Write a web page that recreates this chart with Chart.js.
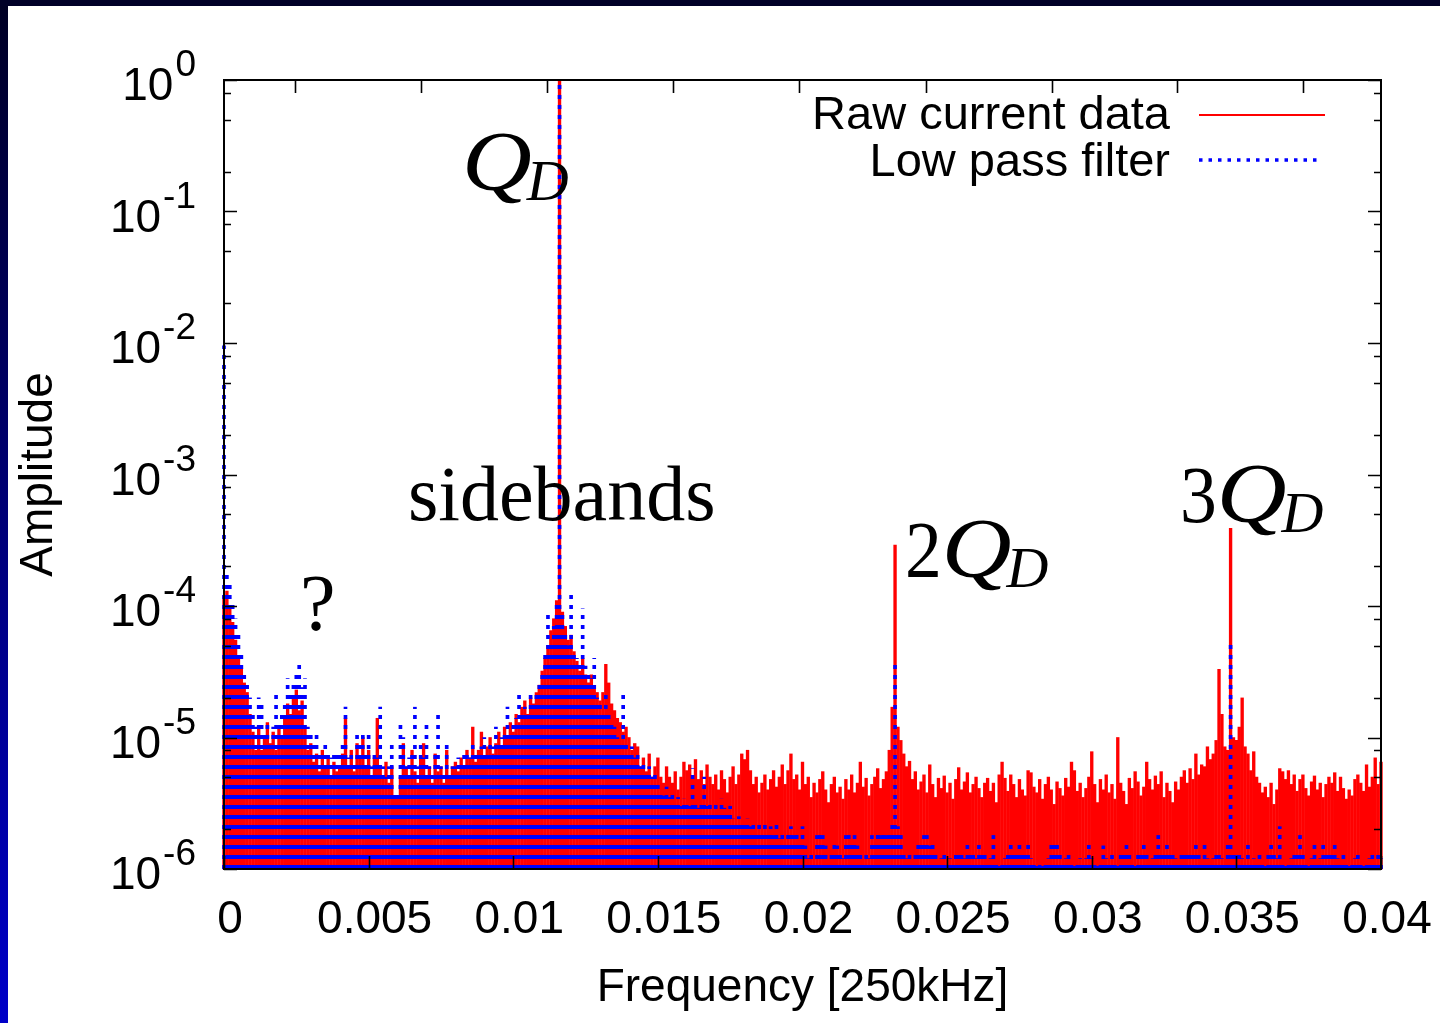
<!DOCTYPE html>
<html>
<head>
<meta charset="utf-8">
<script src="https://cdn.jsdelivr.net/npm/chart.js@4.4.1/dist/chart.umd.min.js"></script>
<style>
  html, body { margin: 0; padding: 0; background: #ffffff; }
  #wrap { position: relative; width: 1440px; height: 1023px; }
  canvas { display: block; }
</style>
</head>
<body>
<div id="wrap"><canvas id="chart" width="1440" height="1023"></canvas></div>
<script>
// ---------------- DATA ----------------
const F_STEP = 0.0001; // frequency bin width, in units of 250 kHz

const seriesNames = ['Raw current data', 'Low pass filter'];

// Raw current data amplitude per frequency bin (bins 0..400)
const rawCurrent = [
  1.2e-4,1.3e-4,1.0e-4,7.5e-5,5.5e-5,4.2e-5,3.4e-5,2.6e-5,2.2e-5,1.5e-5,1.1e-5,8e-6,1.2e-5,8e-6,1.0e-5,1.3e-5,9e-6,1.1e-5,8e-6,1.2e-5,
  1.0e-5,1.4e-5,1.8e-5,1.5e-5,2.0e-5,2.3e-5,1.6e-5,1.9e-5,1.2e-5,8e-6,9e-6,6.5e-6,7.5e-6,5.5e-6,8e-6,6e-6,7e-6,5e-6,6.5e-6,5.5e-6,
  6e-6,7.5e-6,1.4e-5,6e-6,8e-6,5.5e-6,9e-6,7e-6,1.0e-5,6e-6,8e-6,5e-6,7e-6,1.4e-5,6e-6,5e-6,6.5e-6,4.5e-6,6e-6,3.5e-6,
  3.5e-6,5e-6,9e-6,6e-6,5e-6,8e-6,5.5e-6,4.5e-6,7e-6,9e-6,5e-6,6e-6,4.5e-6,7.5e-6,5.5e-6,6e-6,4.5e-6,8e-6,5e-6,6e-6,
  6.5e-6,5.5e-6,7e-6,6e-6,8e-6,7e-6,1.2e-5,6.5e-6,8e-6,1.1e-5,7e-6,8.5e-6,1.0e-5,7.5e-6,9e-6,1.1e-5,8.5e-6,1.2e-5,1.0e-5,1.3e-5,
  1.1e-5,1.5e-5,1.3e-5,1.7e-5,1.9e-5,1.5e-5,2.0e-5,1.8e-5,2.2e-5,2.5e-5,3.2e-5,4e-5,5e-5,6.5e-5,8e-5,1.1e-4,0.98,9e-5,7e-5,5.5e-5,
  6e-5,4.5e-5,3.8e-5,3.2e-5,4e-5,3e-5,2.6e-5,3.0e-5,2.4e-5,2.2e-5,1.9e-5,2.2e-5,3.6e-5,2.6e-5,1.8e-5,1.6e-5,1.4e-5,1.3e-5,1.1e-5,1.2e-5,
  1.0e-5,8e-6,9e-6,8.5e-6,6e-6,7e-6,5.5e-6,7.5e-6,5e-6,6e-6,7e-6,5e-6,4.5e-6,6e-6,5e-6,4.5e-6,5.5e-6,4e-6,5e-6,6.5e-6,
  5.6e-6,6.2e-6,5e-6,6.8e-6,4.8e-6,5.6e-6,4.4e-6,6.2e-6,5e-6,4.4e-6,5.2e-6,4e-6,5.6e-6,4.8e-6,3.8e-6,5e-6,6e-6,4.4e-6,5.2e-6,7.5e-6,
  6.8e-6,8e-6,5.6e-6,4.4e-6,5e-6,3.8e-6,4.5e-6,5.2e-6,4e-6,4.8e-6,5.6e-6,4.2e-6,5e-6,6.2e-6,4.4e-6,5.6e-6,7.5e-6,4.8e-6,5.2e-6,4e-6,
  6.5e-6,4.4e-6,5e-6,3.5e-6,4.5e-6,3.8e-6,4.8e-6,5.5e-6,4e-6,3.2e-6,4.4e-6,5e-6,3.8e-6,4.2e-6,3.4e-6,4.8e-6,4e-6,5.2e-6,3.8e-6,4.5e-6,
  6.5e-6,4.2e-6,4.9e-6,3.6e-6,4.4e-6,5e-6,5.8e-6,4.1e-6,4.8e-6,5.5e-6,8e-6,1.7e-5,2.9e-4,1.2e-5,9.5e-6,7.5e-6,6e-6,6.6e-6,4.8e-6,5.5e-6,
  4e-6,4.6e-6,5.2e-6,3.8e-6,6.2e-6,4.4e-6,3.5e-6,4.9e-6,4.1e-6,5.1e-6,3.8e-6,4.5e-6,3.4e-6,4.8e-6,5.9e-6,4e-6,4.6e-6,5.4e-6,3.8e-6,4.4e-6,
  5e-6,4.1e-6,3.5e-6,4.5e-6,4.9e-6,3.9e-6,4.5e-6,3.2e-6,5.2e-6,6.5e-6,4.9e-6,3.9e-6,5.2e-6,4.4e-6,3.5e-6,4.8e-6,4e-6,3.6e-6,5.6e-6,5.4e-6,
  4.2e-6,3.8e-6,4.8e-6,3.4e-6,4.4e-6,5e-6,4e-6,3.1e-6,4.6e-6,4.1e-6,3.6e-6,4.9e-6,4.2e-6,6.5e-6,5.6e-6,3.9e-6,4.5e-6,3.5e-6,4.1e-6,5e-6,
  7.8e-6,4.4e-6,3.2e-6,4.8e-6,4e-6,5.2e-6,3.8e-6,4.4e-6,3.4e-6,1.0e-5,4.5e-6,3.9e-6,3.1e-6,4.9e-6,4.1e-6,5.5e-6,4.6e-6,3.6e-6,4.2e-6,6.5e-6,
  4.8e-6,4e-6,5.1e-6,4.4e-6,5.5e-6,3.5e-6,4.5e-6,3.9e-6,3.2e-6,4.6e-6,4e-6,5e-6,5.6e-6,4.5e-6,5.8e-6,4.8e-6,7.5e-6,5.2e-6,6.2e-6,6e-6,
  8.5e-6,6.8e-6,7.5e-6,9.5e-6,3.3e-5,1.5e-5,8.5e-6,8e-6,3.9e-4,1.0e-5,9.5e-6,1.2e-5,2.0e-5,8.5e-6,7.5e-6,5.6e-6,7.8e-6,5e-6,4.5e-6,3.8e-6,
  4.2e-6,3.5e-6,4.5e-6,3.1e-6,4e-6,5.8e-6,5.5e-6,4.8e-6,5.6e-6,4.4e-6,5.2e-6,3.9e-6,4.8e-6,5.2e-6,4.1e-6,3.6e-6,4.6e-6,5.1e-6,4e-6,4.5e-6,
  3.5e-6,4.4e-6,5e-6,4.5e-6,5.4e-6,3.9e-6,5e-6,4.1e-6,3.4e-6,4e-6,3.6e-6,4.8e-6,5.2e-6,4.5e-6,3.9e-6,6.2e-6,4.2e-6,5e-6,7e-6,4.4e-6,
  6.5e-6
];

// Low pass filtered amplitude per frequency bin (bins 0..400)
const lowPass = [
  9.5e-3,1.8e-4,1.5e-4,1.1e-4,8e-5,6e-5,4.5e-5,3.2e-5,2.5e-5,2e-5,1.5e-5,1.2e-5,2e-5,1.8e-5,1.1e-5,1.3e-5,9e-6,1.2e-5,2.3e-5,1.3e-5,
  1.5e-5,1.9e-5,2.8e-5,2.2e-5,2.6e-5,3.2e-5,3.7e-5,2.4e-5,2.8e-5,1.2e-5,1.1e-5,9e-6,1.1e-5,8e-6,7.5e-6,9e-6,8e-6,7e-6,7.5e-6,8e-6,
  8e-6,9e-6,1.7e-5,7e-6,8e-6,6.5e-6,1.1e-5,9e-6,1.1e-5,8e-6,1.1e-5,6e-6,8e-6,7e-6,1.7e-5,6e-6,5e-6,6e-6,9e-6,4e-6,
  4e-6,1.3e-5,1.0e-5,6e-6,7e-6,8e-6,1.7e-5,6e-6,9e-6,7e-6,1.3e-5,6e-6,5.5e-6,8e-6,1.6e-5,6e-6,5.5e-6,9e-6,5.5e-6,6e-6,
  6e-6,7e-6,6.5e-6,7.5e-6,8e-6,7e-6,9e-6,7.5e-6,8e-6,8.5e-6,1.0e-5,8e-6,9e-6,8.5e-6,1.2e-5,9e-6,1.0e-5,1.1e-5,1.7e-5,1.1e-5,
  1.3e-5,1.4e-5,2.3e-5,1.5e-5,1.7e-5,1.6e-5,2.1e-5,1.8e-5,2.2e-5,2.5e-5,3.2e-5,4.5e-5,9.4e-5,5.5e-5,7e-5,1.1e-4,0.98,9e-5,6e-5,5e-5,
  1.3e-4,4.5e-5,4e-5,3.8e-5,9.5e-5,3.5e-5,3.2e-5,2.8e-5,4e-5,2e-5,1.8e-5,1.6e-5,2.3e-5,1.5e-5,1.3e-5,1.2e-5,1.0e-5,9e-6,2.3e-5,9e-6,
  8e-6,8.5e-6,7e-6,7.5e-6,6e-6,6.5e-6,5.5e-6,6e-6,5e-6,5.5e-6,4.5e-6,4e-6,3.6e-6,4.2e-6,3.5e-6,3.8e-6,3.2e-6,3.5e-6,3e-6,3.4e-6,
  3.2e-6,3e-6,5.8e-6,3.3e-6,2.9e-6,3.1e-6,5e-6,3e-6,3.3e-6,2.8e-6,3.1e-6,2.7e-6,3.4e-6,2.9e-6,2.6e-6,3e-6,2.4e-6,2.2e-6,2.5e-6,2.3e-6,
  2.2e-6,2.4e-6,2.1e-6,2.3e-6,1.9e-6,2.2e-6,2e-6,2.3e-6,1.9e-6,2.1e-6,1.8e-6,2.2e-6,1.7e-6,2e-6,1.6e-6,1.9e-6,2.1e-6,1.8e-6,1.9e-6,1.6e-6,
  2.1e-6,1.5e-6,1.2e-6,1.3e-6,1.1e-6,1.8e-6,1.9e-6,1.8e-6,1.5e-6,1.1e-6,1.3e-6,1.55e-6,1.5e-6,1.3e-6,1.2e-6,1.8e-6,1.9e-6,1.55e-6,1.8e-6,1.5e-6,
  1.3e-6,1.1e-6,1.3e-6,1.2e-6,1.8e-6,1.6e-6,1.9e-6,1.8e-6,2e-6,1.8e-6,1.9e-6,2.2e-6,3.8e-5,2.1e-6,1.8e-6,1.3e-6,1.2e-6,1.3e-6,1.1e-6,1.3e-6,
  1.55e-6,1.6e-6,1.8e-6,1.8e-6,1.5e-6,1.55e-6,1.3e-6,1.1e-6,1.2e-6,1.3e-6,1.1e-6,1.2e-6,1.1e-6,1.3e-6,1.3e-6,1.35e-6,1.2e-6,1.6e-6,1.3e-6,1.3e-6,
  1.2e-6,1.6e-6,1.3e-6,1.35e-6,1.1e-6,1.2e-6,1.8e-6,1.1e-6,1.05e-6,1.1e-6,1.2e-6,1.3e-6,1.55e-6,1.3e-6,1.3e-6,1.55e-6,1.3e-6,1.3e-6,1.55e-6,1.2e-6,
  1.1e-6,1.05e-6,1.1e-6,1.05e-6,1.1e-6,1.2e-6,1.55e-6,1.55e-6,1.6e-6,1.3e-6,1.1e-6,1.2e-6,1.3e-6,1.1e-6,1.05e-6,1.1e-6,1.2e-6,1.1e-6,1.2e-6,1.55e-6,
  1.2e-6,1.1e-6,1.05e-6,1.1e-6,1.5e-6,1.2e-6,1.1e-6,1.3e-6,1.1e-6,1.05e-6,1.3e-6,1.35e-6,1.55e-6,1.3e-6,1.1e-6,1.05e-6,1.3e-6,1.3e-6,1.55e-6,1.3e-6,
  1.1e-6,1.2e-6,1.35e-6,1.8e-6,1.3e-6,1.35e-6,1.55e-6,1.3e-6,1.3e-6,1.2e-6,1.1e-6,1.3e-6,1.3e-6,1.35e-6,1.3e-6,1.3e-6,1.55e-6,1.3e-6,1.1e-6,1.55e-6,
  1.2e-6,1.1e-6,1.2e-6,1.3e-6,1.35e-6,1.2e-6,1.1e-6,1.55e-6,5.2e-5,1.3e-6,1.35e-6,1.3e-6,1.2e-6,1.1e-6,1.55e-6,1.1e-6,1.2e-6,1.1e-6,1.3e-6,1.1e-6,
  1.05e-6,1.3e-6,1.55e-6,1.3e-6,1.2e-6,2.1e-6,1.1e-6,1.05e-6,1.1e-6,1.2e-6,1.3e-6,1.35e-6,1.8e-6,1.3e-6,1.1e-6,1.05e-6,1.2e-6,1.55e-6,1.1e-6,1.2e-6,
  1.55e-6,1.3e-6,1.35e-6,1.3e-6,1.55e-6,1.2e-6,1.1e-6,1.3e-6,1.1e-6,1.05e-6,1.1e-6,1.2e-6,1.3e-6,1.1e-6,1.05e-6,1.1e-6,1.2e-6,1.35e-6,1.1e-6,1.3e-6,
  1.2e-6
];

const xTickValues = [0, 0.005, 0.01, 0.015, 0.02, 0.025, 0.03, 0.035, 0.04];
const xTickLabels = ['0', '0.005', '0.01', '0.015', '0.02', '0.025', '0.03', '0.035', '0.04'];
const topTickValues = [0.002455, 0.00681, 0.011166, 0.015522, 0.01988, 0.02426, 0.02862, 0.03294, 0.0373];
const yTickExponents = [0, -1, -2, -3, -4, -5, -6];
const yMinorMantissas = [2, 5, 8];

// Text labels placed on the plot, anchored in data coordinates (frequency, amplitude) at the left baseline
const annotations = [
  { f: 0.00823, a: 0.146,   parts: [{ t: 'Q', it: true, size: 84, sx: 1.15 }, { t: 'D', it: true, size: 58, dy: 10, dx: -5 }] },
  { f: 0.00636, a: 4.5e-4,  parts: [{ t: 'sidebands', it: false, size: 78 }] },
  { f: 0.00263, a: 6.6e-5,  parts: [{ t: '?', it: false, size: 80 }] },
  { f: 0.02354, a: 1.66e-4, parts: [{ t: '2', it: false, size: 80, sx: 0.92 }, { t: 'Q', it: true, size: 84, sx: 1.15 }, { t: 'D', it: true, size: 58, dy: 10, dx: -5 }] },
  { f: 0.03305, a: 4.35e-4, parts: [{ t: '3', it: false, size: 80, sx: 0.92 }, { t: 'Q', it: true, size: 84, sx: 1.15 }, { t: 'D', it: true, size: 58, dy: 10, dx: -5 }] }
];

// ---------------- STYLE HELPERS ----------------
const SANS = '"Liberation Sans", Arial, sans-serif';
const SERIF = '"Liberation Serif", "Times New Roman", serif';

let bluePattern = null, patternBottom = null;
function dottedBlue(chart) {
  const area = chart.chartArea;
  if (!area) return '#0000ff';
  if (bluePattern && patternBottom === area.bottom) return bluePattern;
  const c = document.createElement('canvas');
  c.width = 4; c.height = 10;
  const g = c.getContext('2d');
  g.fillStyle = '#0000ff';
  g.fillRect(0, 6, 4, 4);
  bluePattern = chart.ctx.createPattern(c, 'repeat');
  bluePattern.setTransform(new DOMMatrix([1, 0, 0, 1, 0, area.bottom]));
  patternBottom = area.bottom;
  return bluePattern;
}

const backgroundPlugin = {
  id: 'bg',
  beforeDraw(chart) {
    const ctx = chart.ctx, W = chart.width, H = chart.height;
    ctx.save();
    ctx.fillStyle = '#ffffff';
    ctx.fillRect(0, 0, W, H);
    const grad = ctx.createLinearGradient(0, 0, 0, H);
    grad.addColorStop(0, '#000024');
    grad.addColorStop(1, '#0000c8');
    ctx.fillStyle = grad;
    ctx.fillRect(0, 0, 8, H);
    ctx.fillStyle = '#000028';
    ctx.fillRect(0, 0, W, 6);
    ctx.restore();
  }
};

const framePlugin = {
  id: 'frame',
  afterDatasetsDraw(chart) {
    const ctx = chart.ctx;
    const { left, right, top, bottom } = chart.chartArea;
    const xs = chart.scales.x, ys = chart.scales.y;
    ctx.save();
    ctx.strokeStyle = '#000';
    ctx.lineWidth = 2;
    ctx.strokeRect(left, top, right - left, bottom - top);
    ctx.lineWidth = 1.6;
    ctx.beginPath();
    for (const e of yTickExponents) {
      const y = Math.round(ys.getPixelForValue(Math.pow(10, e))) + 0.5;
      ctx.moveTo(left, y); ctx.lineTo(left + 13, y);
      ctx.moveTo(right, y); ctx.lineTo(right - 13, y);
    }
    for (const e of yTickExponents) {
      if (e === 0) continue;
      for (const m of yMinorMantissas) {
        const y = Math.round(ys.getPixelForValue(m * Math.pow(10, e))) + 0.5;
        ctx.moveTo(left, y); ctx.lineTo(left + 7, y);
        ctx.moveTo(right, y); ctx.lineTo(right - 7, y);
      }
    }
    for (const v of xTickValues) {
      const x = Math.round(xs.getPixelForValue(v)) + 0.5;
      ctx.moveTo(x, bottom); ctx.lineTo(x, bottom - 13);
    }
    for (const v of topTickValues) {
      const x = Math.round(xs.getPixelForValue(v)) + 0.5;
      ctx.moveTo(x, top); ctx.lineTo(x, top + 13);
    }
    ctx.stroke();

    // y tick labels 10^n, whole label right-aligned
    ctx.fillStyle = '#000';
    ctx.textBaseline = 'alphabetic';
    const labelRight = 196;
    for (const e of yTickExponents) {
      const y = ys.getPixelForValue(Math.pow(10, e));
      ctx.font = '37px ' + SANS;
      const expText = String(e);
      const expW = ctx.measureText(expText).width;
      ctx.textAlign = 'left';
      ctx.fillText(expText, labelRight - expW, y - 4);
      ctx.font = '46px ' + SANS;
      ctx.textAlign = 'right';
      ctx.fillText('10', labelRight - expW - 2, y + 20);
    }

    // legend
    ctx.font = '47px ' + SANS;
    ctx.textAlign = 'right';
    ctx.textBaseline = 'middle';
    ctx.fillText(seriesNames[0], 1170, 116);
    ctx.fillText(seriesNames[1], 1170, 163);
    ctx.strokeStyle = '#ff0000';
    ctx.lineWidth = 2;
    ctx.beginPath(); ctx.moveTo(1199, 115); ctx.lineTo(1325, 115); ctx.stroke();
    ctx.strokeStyle = '#0000ff';
    ctx.lineWidth = 3.5;
    ctx.setLineDash([3.5, 6]);
    ctx.beginPath(); ctx.moveTo(1199, 160); ctx.lineTo(1322, 160); ctx.stroke();
    ctx.setLineDash([]);

    // annotations
    ctx.textAlign = 'left';
    ctx.textBaseline = 'alphabetic';
    ctx.fillStyle = '#000';
    for (const an of annotations) {
      let x = xs.getPixelForValue(an.f);
      const y = ys.getPixelForValue(an.a);
      for (const p of an.parts) {
        ctx.font = (p.it ? 'italic ' : '') + p.size + 'px ' + SERIF;
        const dx = p.dx || 0, sx = p.sx || 1;
        ctx.save();
        ctx.translate(x + dx, y + (p.dy || 0));
        ctx.scale(sx, 1);
        ctx.fillText(p.t, 0, 0);
        ctx.restore();
        x += dx + ctx.measureText(p.t).width * sx;
      }
    }
    ctx.restore();
  }
};

// ---------------- CHART ----------------
const rawPoints = rawCurrent.map((v, i) => ({ x: i * F_STEP, y: v }));
const lowPoints = lowPass.map((v, i) => ({ x: i * F_STEP, y: v }));

new Chart(document.getElementById('chart'), {
  type: 'bar',
  data: {
    datasets: [
      {
        label: seriesNames[0],
        data: rawPoints,
        backgroundColor: '#ff0000',
        borderWidth: 0,
        barThickness: 2.7,
        grouped: false,
        order: 2,
        clip: 3
      },
      {
        label: seriesNames[1],
        data: lowPoints,
        backgroundColor: (c) => dottedBlue(c.chart),
        borderWidth: 0,
        barThickness: 3,
        grouped: false,
        order: 1,
        clip: 3
      }
    ]
  },
  options: {
    responsive: false,
    maintainAspectRatio: false,
    devicePixelRatio: 1,
    animation: false,
    events: [],
    layout: { padding: { left: 0, top: 80, right: 59, bottom: 0 } },
    plugins: { legend: { display: false }, tooltip: { enabled: false } },
    scales: {
      x: {
        type: 'linear',
        min: 0,
        max: 0.04,
        offset: false,
        grid: { display: false, drawTicks: true, tickLength: 10 },
        border: { display: false },
        afterBuildTicks: (s) => { s.ticks = xTickValues.map(v => ({ value: v })); },
        ticks: {
          color: '#000',
          font: { family: SANS, size: 46 },
          padding: 14,
          labelOffset: 6,
          maxRotation: 0,
          autoSkip: false,
          callback: (v, i) => xTickLabels[i]
        },
        title: {
          display: true,
          text: 'Frequency [250kHz]',
          color: '#000',
          font: { family: SANS, size: 46 },
          padding: { top: 0, bottom: 7 }
        },
        afterFit: (s) => { s.height = 154; s.paddingLeft = 0; s.paddingRight = 0; }
      },
      y: {
        type: 'logarithmic',
        min: 1e-6,
        max: 1,
        grid: { display: false, drawTicks: false },
        border: { display: false },
        ticks: { display: false },
        title: {
          display: true,
          text: 'Amplitude',
          color: '#000',
          font: { family: SANS, size: 46 },
          padding: { top: 12, bottom: 0 }
        },
        afterFit: (s) => { s.width = 224; }
      }
    }
  },
  plugins: [backgroundPlugin, framePlugin]
});
</script>
</body>
</html>
